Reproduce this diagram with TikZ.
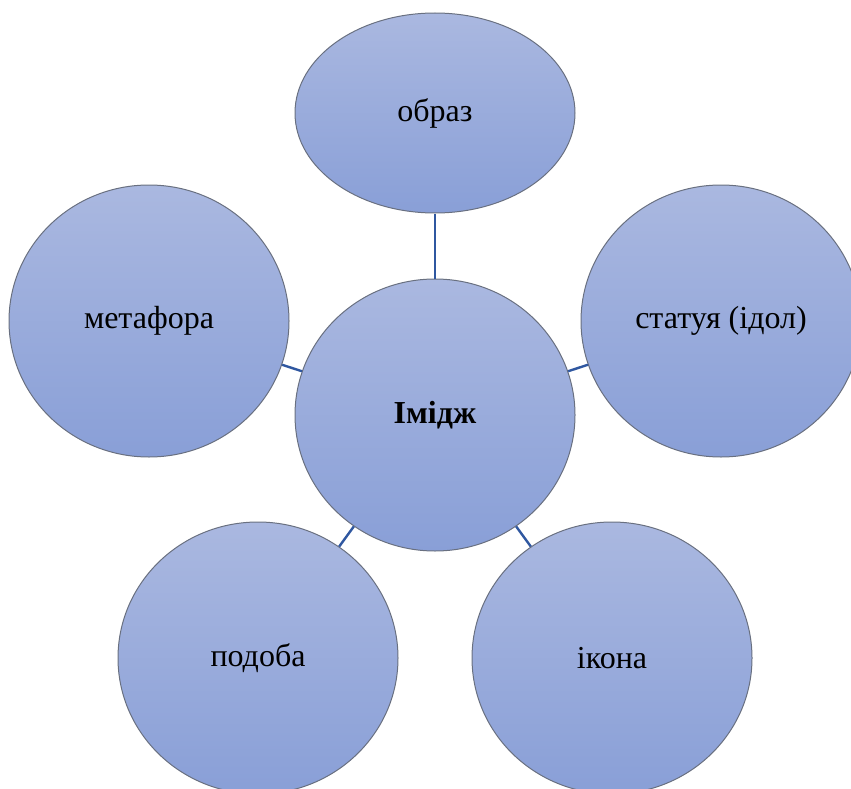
\documentclass[tikz,border=0pt]{standalone}
\usepackage{fontspec}
\setmainfont{Liberation Serif}
\usetikzlibrary{shapes.geometric}
\definecolor{topfill}{RGB}{170,184,224}
\definecolor{botfill}{RGB}{137,159,215}
\definecolor{rim}{RGB}{105,112,128}
\definecolor{link}{RGB}{47,87,160}
\tikzset{
  bubble/.style={ellipse, draw=rim, line width=1pt, top color=topfill, bottom color=botfill,
    minimum width=280pt, minimum height=272pt, inner sep=0pt, font=\fontsize{32}{36}\selectfont},
  linkline/.style={draw=link, line width=2.4pt}
}
\begin{document}
\begin{tikzpicture}[x=1pt,y=-1pt]
\useasboundingbox (0,0) rectangle (851,789);
\clip (0,0) rectangle (851,789);
\node[bubble] (c) at (435,415) {\textbf{Імідж}};
\node[bubble, minimum height=200pt] (o) at (435,113) {образ};
\node[bubble] (m) at (149,321) {метафора};
\node[bubble] (s) at (721,321) {статуя (ідол)};
\node[bubble] (p) at (258,658) {подоба};
\node[bubble] (i) at (612,658) {ікона};
\path[linkline] (c) -- (o);
\path[linkline] (c) -- (m);
\path[linkline] (c) -- (s);
\path[linkline] (c) -- (p);
\path[linkline] (c) -- (i);
\end{tikzpicture}
\end{document}
